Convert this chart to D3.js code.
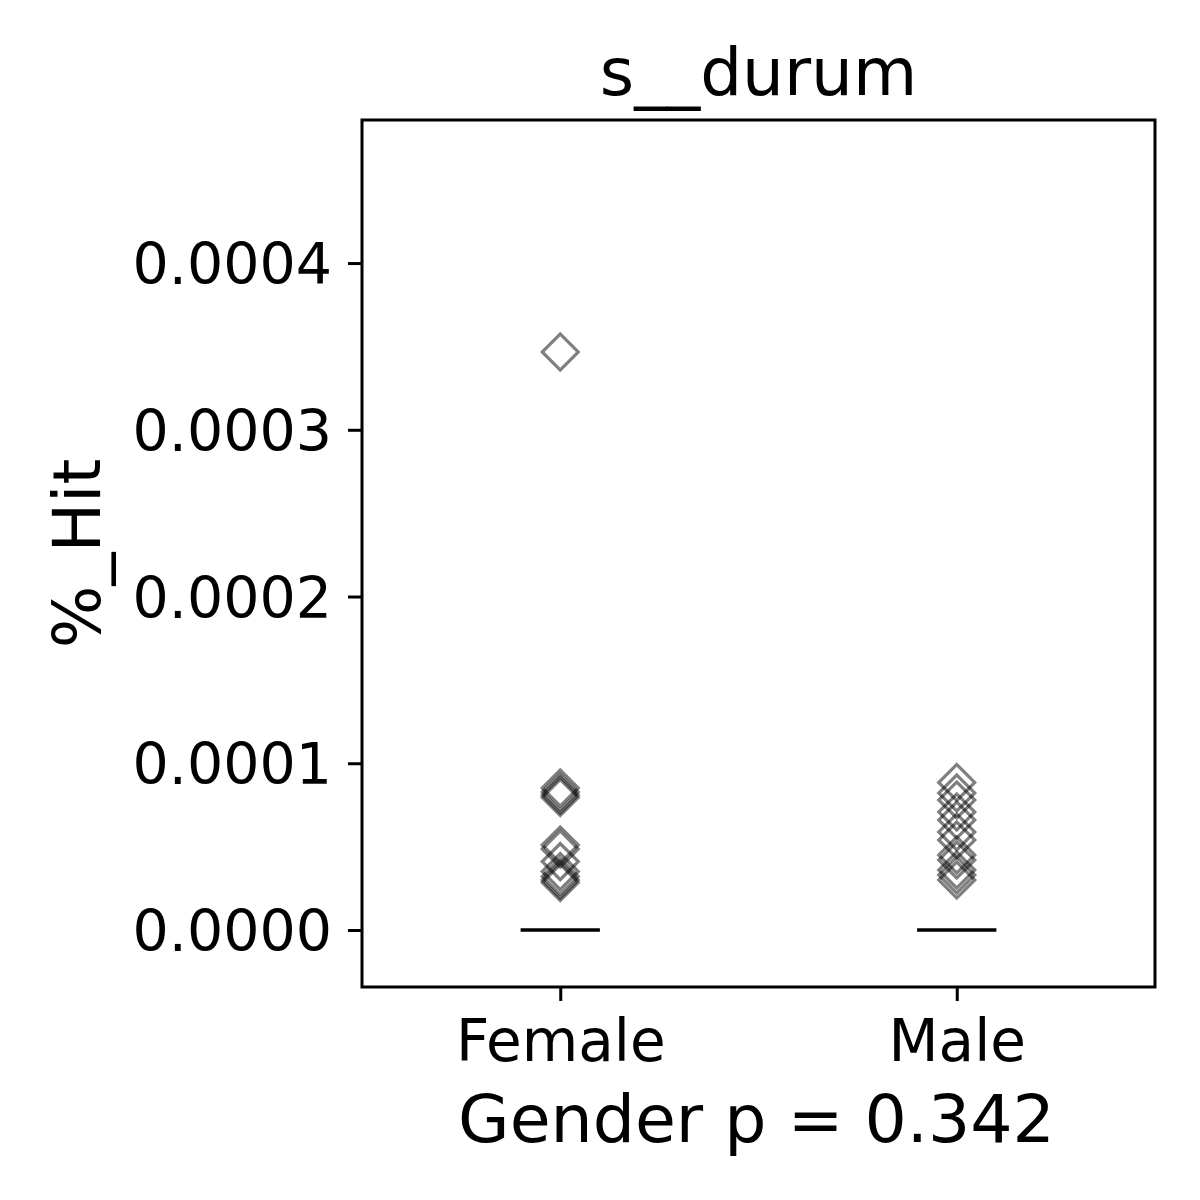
<!DOCTYPE html>
<html>
<head>
<meta charset="utf-8">
<script src="https://cdn.jsdelivr.net/npm/d3@7"></script>
<style>
  html, body { margin: 0; padding: 0; background: #fff; }
  svg { display: block; }
  text { font-family: "DejaVu Sans", sans-serif; fill: #000; }
</style>
</head>
<body>
<svg id="chart" width="1200" height="1200"></svg>
<script>
const categories = ["Female", "Male"];
const femaleValues = [0.0003466, 0.0000852, 0.0000828, 0.000081, 0.0000795, 0.000051, 0.0000486, 0.000041, 0.000035, 0.000032, 0.00003, 0.0000285];
const maleValues = [0.0000885, 0.0000822, 0.000078, 0.0000708, 0.000066, 0.0000588, 0.000054, 0.000045, 0.000042, 0.000036, 0.000033, 0.00003];
const medians = [0, 0];
const yTicks = [0, 0.0001, 0.0002, 0.0003, 0.0004];
const titleText = "s__durum";
const xLabelText = "Gender p = 0.342";
const yLabelText = "%_Hit";

(function () {
const svg = d3.select("#chart");
svg.append("rect").attr("width", 1200).attr("height", 1200).attr("fill", "#fff");

const mLeft = 362, mRight = 1155, mTop = 120, mBottom = 987;

const x = d3.scaleLinear().domain([-0.5, 1.5]).range([mLeft, mRight]);
const y = d3.scaleLinear().domain([-0.0000342, 0.0004858]).range([mBottom, mTop]);

// Points
const series = [femaleValues, maleValues];
const diamondPath = d3.symbol().type(d3.symbolSquare).size(Math.pow(18 * Math.SQRT2, 2))();
series.forEach((vals, i) => {
  svg.append("g").selectAll("path").data(vals).join("path")
    .attr("d", diamondPath)
    .attr("transform", d => `translate(${x(i)},${y(d)}) rotate(45)`)
    .attr("fill", "none")
    .attr("stroke", "#000")
    .attr("stroke-opacity", 0.5)
    .attr("stroke-width", 3.2);
});

// Median lines
svg.append("g").selectAll("line").data(medians).join("line")
  .attr("x1", (d, i) => x(i - 0.1))
  .attr("x2", (d, i) => x(i + 0.1))
  .attr("y1", d => y(d))
  .attr("y2", d => y(d))
  .attr("stroke", "#000")
  .attr("stroke-width", 3.5);

// Frame
svg.append("rect")
  .attr("x", mLeft).attr("y", mTop)
  .attr("width", mRight - mLeft).attr("height", mBottom - mTop)
  .attr("fill", "none").attr("stroke", "#000").attr("stroke-width", 3);

// Y axis
const yAxis = d3.axisLeft(y).tickValues(yTicks).tickFormat(d3.format(".4f"))
  .tickSize(14).tickPadding(16);
const gy = svg.append("g").attr("transform", `translate(${mLeft},0)`).call(yAxis);
gy.select(".domain").remove();
gy.selectAll(".tick line").attr("stroke", "#000").attr("stroke-width", 3);
gy.selectAll(".tick text").attr("font-size", 57).attr("font-family", "DejaVu Sans")
  .attr("dy", "0.36em").attr("fill", "#000");

// X axis
const xAxis = d3.axisBottom(x).tickValues([0, 1]).tickFormat(i => categories[i])
  .tickSize(14).tickPadding(19);
const gx = svg.append("g").attr("transform", `translate(0,${mBottom})`).call(xAxis);
gx.select(".domain").remove();
gx.selectAll(".tick line").attr("stroke", "#000").attr("stroke-width", 3);
gx.selectAll(".tick text").attr("font-size", 58).attr("font-family", "DejaVu Sans").attr("fill", "#000");

// Title
svg.append("text").attr("x", (mLeft + mRight) / 2).attr("y", 95)
  .attr("text-anchor", "middle").attr("font-size", 66).text(titleText);

// X label
svg.append("text").attr("x", (mLeft + mRight) / 2 - 2).attr("y", 1142)
  .attr("text-anchor", "middle").attr("font-size", 66.5).text(xLabelText);

// Y label
svg.append("text")
  .attr("transform", `translate(100,${(mTop + mBottom) / 2}) rotate(-90)`)
  .attr("text-anchor", "middle").attr("font-size", 66).text(yLabelText);
})();
</script>
</body>
</html>
